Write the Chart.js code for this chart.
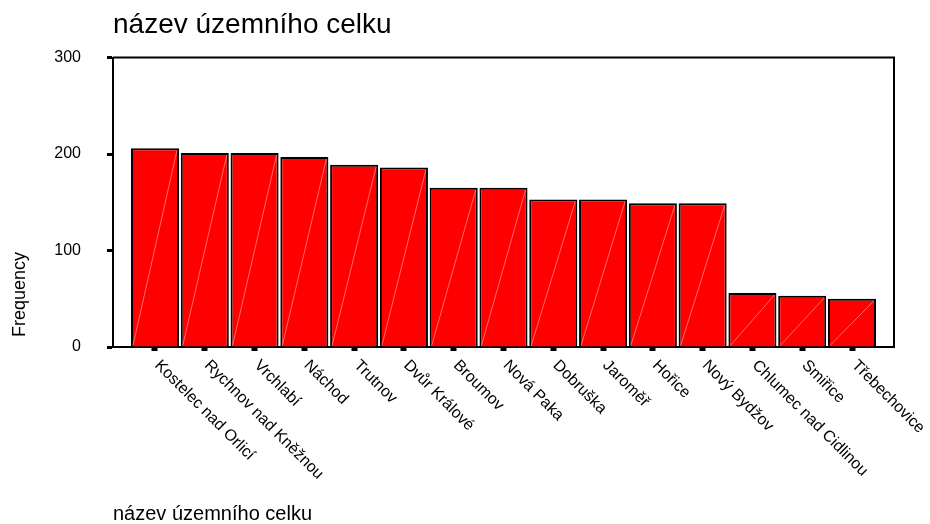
<!DOCTYPE html>
<html><head><meta charset="utf-8">
<script src="https://cdn.jsdelivr.net/npm/chart.js@4/dist/chart.umd.min.js"></script>
<style>html,body{margin:0;padding:0;background:#fff;}</style>
</head><body>
<canvas id="c" width="930" height="524"></canvas>
<script>
const categories = ["Kostelec nad Orlicí","Rychnov nad Kněžnou","Vrchlabí","Náchod","Trutnov","Dvůr Králové","Broumov","Nová Paka","Dobruška","Jaroměř","Hořice","Nový Bydžov","Chlumec nad Cidlinou","Smiřice","Třebechovice"];
const frequencies = [206,201,201,197,189,186,165,165,153,153,149,149,56,53,50];
const yTicks = [0,100,200,300];
const chartTitle = "název územního celku";
const xTitle = "název územního celku";
const yTitle = "Frequency";

const FAMILY = '"Liberation Sans", Arial, sans-serif';
Chart.defaults.font.family = FAMILY;
Chart.defaults.color = '#000';

const decor = {
  id: 'decor',
  afterDatasetsDraw(chart) {
    const ctx = chart.ctx;
    const meta = chart.getDatasetMeta(0);
    ctx.save();
    ctx.strokeStyle = 'rgba(255,175,175,0.6)';
    ctx.lineWidth = 1;
    meta.data.forEach(b => {
      const p = b.getProps(['x','y','base','width'], true);
      const l = p.x - p.width/2 + 2, r = p.x + p.width/2 - 2;
      ctx.beginPath();
      ctx.moveTo(l, p.base - 1);
      ctx.lineTo(r, p.y + 2);
      ctx.stroke();
    });
    ctx.restore();
  },
  afterDraw(chart) {
    const ctx = chart.ctx, a = chart.chartArea;
    ctx.save();
    ctx.strokeStyle = '#000';
    ctx.lineWidth = 2;
    ctx.beginPath();
    ctx.moveTo(a.left, a.top);
    ctx.lineTo(a.right, a.top);
    ctx.lineTo(a.right, a.bottom);
    ctx.stroke();
    const xs = chart.scales.x;
    ctx.fillStyle = '#000';
    ctx.font = '16px ' + FAMILY;
    ctx.textAlign = 'left';
    ctx.textBaseline = 'alphabetic';
    categories.forEach((c, i) => {
      const px = xs.getPixelForValue(i);
      ctx.save();
      ctx.translate(px - 1, a.bottom + 19);
      ctx.rotate(Math.PI / 4);
      ctx.fillText(c, 0, 0);
      ctx.restore();
    });
    ctx.font = '18px ' + FAMILY;
    ctx.textAlign = 'center';
    ctx.save();
    ctx.translate(25, 294.5);
    ctx.rotate(-Math.PI / 2);
    ctx.fillText(yTitle, 0, 0);
    ctx.restore();
    ctx.restore();
  }
};

new Chart(document.getElementById('c'), {
  type: 'bar',
  data: {
    datasets: [{
      data: categories.map((c, i) => ({x: i, y: frequencies[i]})),
      backgroundColor: '#ff0000',
      borderColor: '#000',
      borderWidth: 2,
      barPercentage: 0.965,
      categoryPercentage: 1
    }]
  },
  options: {
    responsive: false,
    devicePixelRatio: 1,
    animation: false,
    layout: {padding: {left: 55, right: 36, top: 0, bottom: 0}},
    plugins: {
      legend: {display: false},
      tooltip: {enabled: false},
      title: {
        display: true, text: chartTitle, align: 'start', fullSize: false,
        color: '#000',
        font: {size: 28, weight: 'normal', family: FAMILY, lineHeight: 1.2},
        padding: {top: 8, bottom: 16}
      }
    },
    scales: {
      x: {
        type: 'linear',
        offset: false,
        min: -0.8436, max: 14.8436,
        afterBuildTicks: s => { s.ticks = categories.map((c, i) => ({value: i})); },
        afterFit: s => { s.height = 177; },
        ticks: {display: false},
        grid: {offset: false, drawOnChartArea: false, drawTicks: true, tickLength: 4, tickWidth: 6, tickColor: '#000'},
        border: {display: true, color: '#000', width: 2},
        title: {
          display: true, text: xTitle, align: 'start', color: '#000',
          font: {size: 20, family: FAMILY, lineHeight: 1},
          padding: 0
        }
      },
      y: {
        min: 0, max: 300,
        afterBuildTicks: s => { s.ticks = yTicks.map(v => ({value: v})); },
        afterFit: s => { s.width = 58; },
        ticks: {padding: 26, color: '#000', font: {size: 16, family: FAMILY}},
        grid: {drawOnChartArea: false, drawTicks: true, tickLength: 6, tickWidth: 3, tickColor: '#000'},
        border: {display: true, color: '#000', width: 2}
      }
    }
  },
  plugins: [decor]
});
</script>
</body></html>
